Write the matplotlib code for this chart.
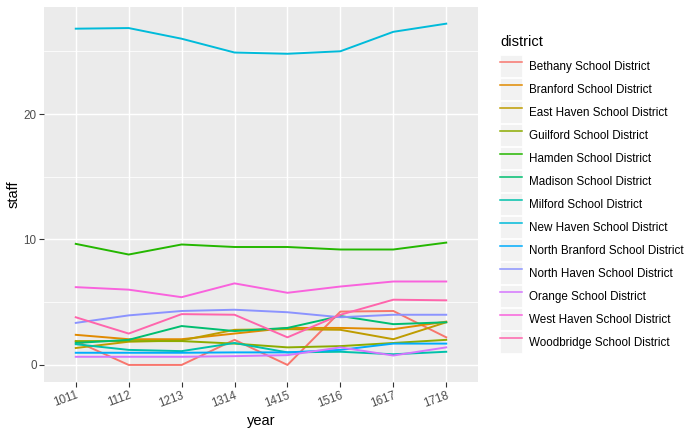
import matplotlib
matplotlib.use("Agg")
import matplotlib.pyplot as plt
from matplotlib.patches import Rectangle
from matplotlib.lines import Line2D
from matplotlib.legend_handler import HandlerTuple

plt.rcParams['font.family'] = ['Liberation Sans', 'DejaVu Sans']

years = ['1011', '1112', '1213', '1314', '1415', '1516', '1617', '1718']

districts = ['Bethany School District', 'Branford School District',
             'East Haven School District', 'Guilford School District',
             'Hamden School District', 'Madison School District',
             'Milford School District', 'New Haven School District',
             'North Branford School District', 'North Haven School District',
             'Orange School District', 'West Haven School District',
             'Woodbridge School District']

bethany = [1.9, 0, 0, 2.0, 0, 4.25, 4.3, 2.2]
branford = [2.4, 2.05, 2.05, 2.5, 2.95, 2.95, 2.85, 3.45]
east_haven = [1.35, 1.85, 1.95, 2.8, 2.85, 2.8, 2.05, 3.4]
guilford = [1.9, 1.9, 1.9, 1.7, 1.4, 1.5, 1.75, 2.0]
hamden = [9.65, 8.8, 9.6, 9.4, 9.4, 9.2, 9.2, 9.75]
madison = [1.75, 2.0, 3.1, 2.7, 2.95, 3.9, 3.25, 3.4]
milford = [1.65, 1.2, 1.1, 1.75, 1.0, 1.05, 0.85, 1.05]
new_haven = [26.8, 26.85, 26.0, 24.9, 24.8, 25.0, 26.55, 27.2]
north_branford = [0.97, 0.97, 0.97, 1.0, 1.0, 1.2, 1.7, 1.7]
north_haven = [3.35, 3.95, 4.3, 4.4, 4.2, 3.8, 4.0, 4.0]
orange = [0.65, 0.65, 0.65, 0.7, 0.78, 1.4, 0.75, 1.4]
west_haven = [6.2, 6.0, 5.4, 6.5, 5.75, 6.25, 6.65, 6.65]
woodbridge = [3.8, 2.5, 4.05, 4.0, 2.2, 4.0, 5.2, 5.15]

staff = [bethany, branford, east_haven, guilford, hamden, madison, milford,
         new_haven, north_branford, north_haven, orange, west_haven, woodbridge]

# ggplot default hue palette for 13 groups
colors = ["#F8766D", "#E18A00", "#BE9C00", "#8CAB00", "#24B700", "#00BE70",
          "#00C1AB", "#00BBDA", "#00ACFC", "#8B93FF", "#D575FE", "#F962DD",
          "#FF65AC"]

fig = plt.figure(figsize=(7, 4.32), dpi=100)
ax = fig.add_axes([44 / 700, 1 - 382 / 432, (478 - 44) / 700, (382 - 6.6) / 432])
ax.set_facecolor('#EBEBEB')

handles = []
for name, vals, c in zip(districts, staff, colors):
    ax.plot(years, vals, color=c, linewidth=1.4, zorder=3)
    key_bg = Rectangle((0, 0), 1, 1, facecolor='#F2F2F2', edgecolor='white', linewidth=0.6)
    key_line = Line2D([], [], color=c, linewidth=1.1)
    handles.append((key_bg, key_line))

ax.set_xlim(-0.6, 7.6)
ax.set_ylim(-1.36, 28.56)
ax.set_yticks([0, 10, 20])
ax.set_yticks([5, 15, 25], minor=True)

ax.grid(True, which='major', color='white', linewidth=1.05, zorder=0)
ax.grid(True, which='minor', axis='y', color='white', linewidth=0.55, zorder=0)
ax.set_axisbelow(True)
for s in ax.spines.values():
    s.set_visible(False)

ax.tick_params(axis='both', which='major', length=3.3, width=0.8, color='#333333',
               labelcolor='#4D4D4D', labelsize=8.4, pad=2)
ax.tick_params(axis='y', which='minor', length=0)
plt.setp(ax.get_xticklabels(), rotation=20, ha='right', rotation_mode='anchor')

ax.set_xlabel('year', fontsize=10.5, labelpad=3)
ax.set_ylabel('staff', fontsize=10.5, labelpad=2.5)

# legend (title drawn separately so the gap matches ggplot)
fig.text(500 / 700, 1 - 42 / 432, 'district', fontsize=10.5, va='center', ha='left')
leg = fig.legend(handles, districts, handler_map={tuple: HandlerTuple(ndivide=1, pad=0)},
                 loc='upper left', bbox_to_anchor=(500 / 700, 1 - 55 / 432),
                 frameon=False, fontsize=8.4,
                 handlelength=1.89, handleheight=2.52, labelspacing=0.09,
                 handletextpad=0.6, borderpad=0, borderaxespad=0)

fig.savefig('out.png', dpi=100)
